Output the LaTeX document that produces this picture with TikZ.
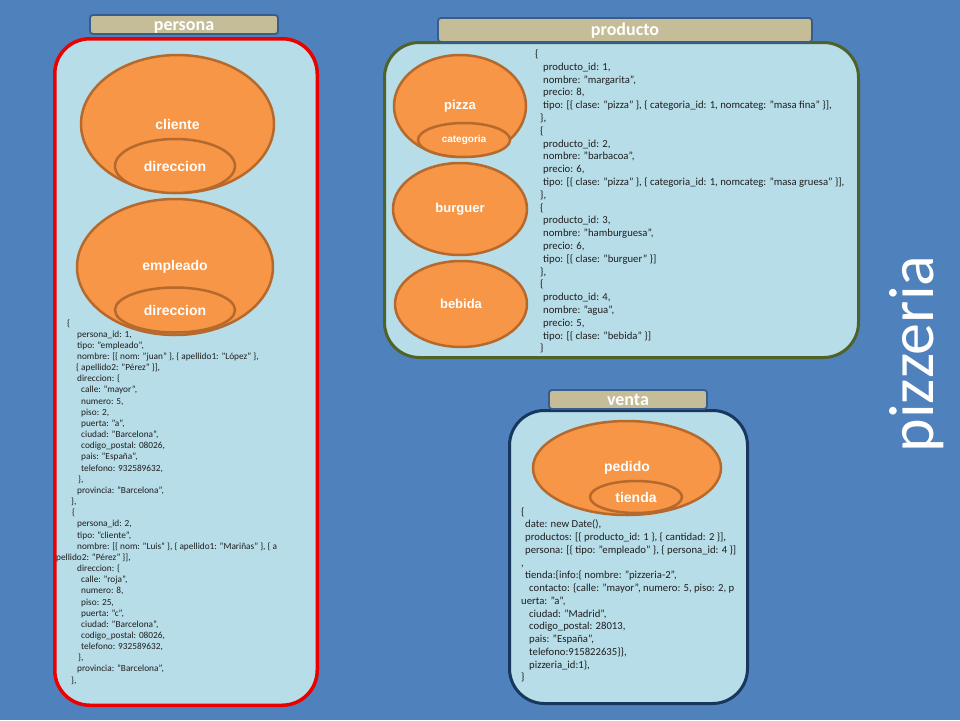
\documentclass[tikz,border=0pt]{standalone}
\usepackage{fontspec}
\setmainfont{Carlito}
\newfontfamily\labfont{Liberation Sans}
\usetikzlibrary{shapes.geometric}
\definecolor{bgblue}{RGB}{79,129,189}
\definecolor{panel}{RGB}{183,221,232}
\definecolor{tanfill}{RGB}{196,189,151}
\definecolor{tabedge}{RGB}{56,93,138}
\definecolor{orng}{RGB}{247,150,70}
\definecolor{orngedge}{RGB}{182,105,45}
\definecolor{grnedge}{RGB}{79,98,40}
\definecolor{navyedge}{RGB}{23,55,94}
\definecolor{rededge}{RGB}{235,0,0}
\definecolor{jsontext}{RGB}{30,30,30}
\tikzset{
  panelbox/.style={rectangle, rounded corners=35pt, fill=panel, line width=3.5pt, inner sep=0pt},
  tabbox/.style={rectangle, rounded corners=3pt, fill=tanfill, draw=tabedge, line width=1.8pt,
    text=white, font=\bfseries\fontsize{18}{18}\selectfont, inner sep=0pt,
    text height=11pt, text depth=0pt},
  blob/.style={ellipse, fill=orng, draw=orngedge, line width=2.5pt, text=white,
    font=\labfont\bfseries\fontsize{14}{14}\selectfont, inner sep=0pt},
  pjson/.style={anchor=base west, inner sep=0pt, text=jsontext, font=\fontsize{9.3}{11}\selectfont},
  djson/.style={anchor=base west, inner sep=0pt, text=jsontext, font=\fontsize{10.7}{12}\selectfont},
}
\begin{document}
\begin{tikzpicture}[x=1pt,y=-1pt]
\fill[bgblue] (0,0) rectangle (960,720);
\useasboundingbox (0,0) rectangle (960,720);

% panels
\node[panelbox, draw=rededge, minimum width=262.5, minimum height=666.5] (persona) at (186,372) {};
\node[panelbox, draw=grnedge, line width=3pt, minimum width=474, minimum height=315] (producto) at (621.5,200) {};
\node[panelbox, draw=navyedge, line width=3pt, minimum width=238, minimum height=293] (venta) at (628.5,557) {};

% tabs
\node[tabbox, minimum width=188, minimum height=19] (tpersona) at (184,24.5) {persona};
\node[tabbox, minimum width=374, minimum height=24] (tproducto) at (625,30) {producto};
\node[tabbox, minimum width=158, minimum height=19] (tventa) at (628,399.5) {venta};

% persona ellipses
\node[blob, minimum width=193, minimum height=138] (cliente) at (177.5,124) {cliente};
\node[blob, minimum width=120, minimum height=54] (dir1) at (175,166) {direccion};
\node[blob, minimum width=196, minimum height=136] (empleado) at (175,267) {empleado};
\node[blob, minimum width=120, minimum height=45] (dir2) at (175,310) {direccion};

% producto ellipses
\node[blob, font=\labfont\bfseries\fontsize{13}{13}\selectfont, minimum width=132, minimum height=102] (pizza) at (460,106) {pizza};
\node[blob, font=\labfont\bfseries\fontsize{10}{10}\selectfont, minimum width=92, minimum height=34] (categoria) at (464,140) {categoria};
\node[blob, font=\labfont\bfseries\fontsize{13}{13}\selectfont, minimum width=134, minimum height=92] (burguer) at (460,209) {burguer};
\node[blob, font=\labfont\bfseries\fontsize{13}{13}\selectfont, minimum width=132, minimum height=86] (bebida) at (461,304) {bebida};

% venta ellipses
\node[blob, minimum width=188, minimum height=94] (pedido) at (627,468) {pedido};
\node[blob, minimum width=92, minimum height=32] (tienda) at (636,497) {tienda};

% persona json
\foreach \xo/\t [count=\i] in {
67/{\{},
77/{persona\_id: 1,},
77/{tipo: "empleado",},
77/{nombre: [\{ nom: "juan" \}, \{ apellido1: "López" \},},
76/{\{ apellido2: "Pérez" \}],},
77/{direccion: \{},
81/{calle: "mayor",},
81/{numero: 5,},
81/{piso: 2,},
81/{puerta: "a",},
81/{ciudad: "Barcelona",},
81/{codigo\_postal: 08026,},
81/{pais: "España",},
81/{telefono: 932589632,},
78/{\},},
77/{provincia: "Barcelona",},
71/{\},},
72/{\{},
77/{persona\_id: 2,},
77/{tipo: "cliente",},
77/{nombre: [\{ nom: "Luis" \}, \{ apellido1: "Mariñas" \}, \{ a},
56/{pellido2: "Pérez" \}],},
77/{direccion: \{},
81/{calle: "roja",},
81/{numero: 8,},
81/{piso: 25,},
81/{puerta: "c",},
81/{ciudad: "Barcelona",},
81/{codigo\_postal: 08026,},
81/{telefono: 932589632,},
78/{\},},
77/{provincia: "Barcelona",},
71/{\},}}
  \node[pjson] (pj\i) at (\xo, {326+(\i-1)*11.16}) {\t};

% producto json
\foreach \xo/\t [count=\i] in {
535/{\{},
543/{producto\_id: 1,},
543/{nombre: "margarita",},
543/{precio: 8,},
543/{tipo: [\{ clase: "pizza" \}, \{ categoria\_id: 1, nomcateg: "masa fina" \}],},
540/{\},},
540/{\{},
543/{producto\_id: 2,},
543/{nombre: "barbacoa",},
543/{precio: 6,},
543/{tipo: [\{ clase: "pizza" \}, \{ categoria\_id: 1, nomcateg: "masa gruesa" \}],},
540/{\},},
540/{\{},
543/{producto\_id: 3,},
543/{nombre: "hamburguesa",},
543/{precio: 6,},
543/{tipo: [\{ clase: "burguer" \}]},
540/{\},},
540/{\{},
543/{producto\_id: 4,},
543/{nombre: "agua",},
543/{precio: 5,},
543/{tipo: [\{ clase: "bebida" \}]},
540/{\}}}
  \node[djson] (dj\i) at (\xo, {57.5+(\i-1)*12.8}) {\t};

% venta json
\foreach \xo/\t [count=\i] in {
521/{\{},
525/{date: new Date(),},
525/{productos: [\{ producto\_id: 1 \}, \{ cantidad: 2 \}],},
525/{persona: [\{ tipo: "empleado" \}, \{ persona\_id: 4 \}]},
521/{,},
525/{tienda:\{info:\{ nombre: "pizzeria-2",},
529/{contacto: \{calle: "mayor", numero: 5, piso: 2, p},
521/{uerta: "a",},
529/{ciudad: "Madrid",},
529/{codigo\_postal: 28013,},
529/{pais: "España",},
529/{telefono:915822635\}\},},
529/{pizzeria\_id:1\},},
521/{\}}}
  \node[djson] (vj\i) at (\xo, {515+(\i-1)*12.75}) {\t};

% side title
\node[rotate=90, anchor=base, inner sep=0pt, text=white, font=\fontsize{64}{64}\selectfont] (title) at (933,354) {pizzeria};
\end{tikzpicture}
\end{document}
